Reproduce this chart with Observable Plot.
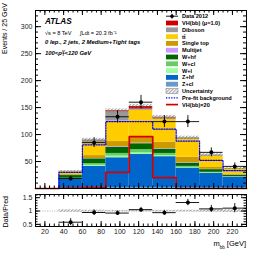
<!DOCTYPE html>
<html><head><meta charset="utf-8">
<script src="https://cdn.jsdelivr.net/npm/d3@7"></script>
<script src="https://cdn.jsdelivr.net/npm/@observablehq/plot@0.6"></script>
<style>
body{margin:0;background:#fff;}
#wrap{position:relative;width:266px;height:255px;overflow:hidden;font-family:"Liberation Sans",Arial,sans-serif;font-size:7px;}
#wrap svg{position:absolute;left:0;}
.t{position:absolute;white-space:nowrap;color:#000;line-height:1;}
.bi{font-weight:bold;font-style:italic;}
</style></head><body>
<svg width="0" height="0" style="position:absolute">
<defs><pattern id="hatch" patternUnits="userSpaceOnUse" width="2.4" height="2.4" patternTransform="rotate(45)"><line x1="0.6" y1="0" x2="0.6" y2="2.4" stroke="#6d6d6d" stroke-width="0.7"/></pattern></defs></svg>
<div id="wrap"></div>
<script>
// ---- data (bins of m_bb, 25 GeV wide) ----
const edges = [10, 35, 60, 85, 110, 135, 160, 185, 210, 235];
const binLo = [35, 60, 85, 110, 135, 160, 185, 210];
const binHi = [60, 85, 110, 135, 160, 185, 210, 235];
const binMid = [47.5, 72.5, 97.5, 122.5, 147.5, 172.5, 197.5, 222.5];
const components = ["Z+cl", "Z+hf", "W+l", "W+cl", "W+hf", "Multijet", "Single top", "ttbar", "Diboson", "VH"];
const compColors = ["#6699cc", "#0066cc", "#99ff99", "#66cc66", "#006600", "#cc99ff", "#cc9900", "#ffcc00", "#999999", "#cc0000"];
const zcl       = [1, 2, 2, 2, 2, 1.5, 1, 0.8];
const zhf       = [17, 39, 55, 61, 57, 36.5, 27, 20.2];
const wl        = [0.3, 2, 3, 3, 2, 1, 0.7, 0.4];
const wcl       = [0.7, 3, 5, 6, 4, 2, 1.3, 0.6];
const whf       = [5, 9, 11, 11, 8, 6, 5, 2.5];
const multijet  = [0.3, 0.5, 1.5, 1, 1, 1, 0.5, 0.3];
const singleTop = [1.5, 5.5, 9.5, 12, 12, 10, 3.5, 2.2];
const ttbar     = [5, 22, 38, 49, 42, 33, 21, 8.5];
const diboson   = [1, 6.9, 17.5, 2.2, 3, 3, 2, 1.5];
const vh        = [0.05, 0.1, 1.5, 4.8, 1, 0, 0, 0];
const uncert    = [1.5, 3, 3.5, 4, 3.5, 3, 2.5, 2];
const dataVals  = [18.5, 85, 133, 160, 124, 124, 67, 41];
const dataErr   = [4.3, 9.2, 11.5, 12.6, 11.1, 11.1, 8.2, 6.4];
const prefit    = [0, 30, 81, 124, 124, 110, 88, 52, 33];   // per edge bin incl. 10-35
const vhx20     = [0, 0.8, 1.5, 30, 96, 20, 0, 0, 0];
const yMajor = [0, 50, 100, 150, 200, 250, 300];
const yLabels = [50, 100, 150, 200, 250, 300];
const xMajor = [20, 40, 60, 80, 100, 120, 140, 160, 180, 200, 220];
const rMajor = [0.5, 1, 1.5];
const rLabels = ["0.5", "1", "1.5"];

const series = [zcl, zhf, wl, wcl, whf, multijet, singleTop, ttbar, diboson, vh];
const stackRows = [];
const totals = [];
for (let b = 0; b < binLo.length; b++) {
  let acc = 0;
  for (let c = 0; c < components.length; c++) {
    const v = series[c][b];
    stackRows.push({comp: components[c], lo: binLo[b], hi: binHi[b], y1: acc, y2: acc + v});
    acc += v;
  }
  totals.push(acc);
}
const bins = binLo.map((lo, i) => ({lo, hi: binHi[i], mid: binMid[i], tot: totals[i], unc: uncert[i],
  v: dataVals[i], e: dataErr[i], r: dataVals[i] / totals[i], re: dataErr[i] / totals[i]}));
const prefitPts = edges.map((x, i) => ({x, y: prefit[Math.min(i, prefit.length - 1)]}));
const sigPts = edges.map((x, i) => ({x, y: vhx20[Math.min(i, vhx20.length - 1)]}));
const xMinor = d3.range(10, 236, 5);
const yMinor = d3.range(0, 331, 10);
const rMinor = d3.range(0.5, 1.61, 0.1);

const W = 266, ML = 35, MR = 20;
const FW = W - ML - MR;
const font = {fontFamily: "Liberation Sans, Arial, sans-serif", fontSize: "7px", color: "#000", background: "transparent", overflow: "visible"};

// ---- main panel ----
const mainH = 190, mT = 10, mB = 2, FH = mainH - mT - mB;
const main = Plot.plot({
  width: W, height: mainH, marginLeft: ML, marginRight: MR, marginTop: mT, marginBottom: mB,
  style: font,
  x: {domain: [10, 235], axis: null},
  y: {domain: [0, 330], axis: null},
  color: {domain: components, range: compColors},
  marks: [
    Plot.rect(stackRows, {x1: "lo", x2: "hi", y1: "y1", y2: "y2", fill: "comp"}),
    Plot.rect(bins, {x1: "lo", x2: "hi", y1: d => d.tot - d.unc, y2: d => d.tot + d.unc, fill: "url(#hatch)"}),
    Plot.line(sigPts, {x: "x", y: "y", curve: "step-after", stroke: "#d40000", strokeWidth: 1.7}),
    Plot.line(prefitPts, {x: "x", y: "y", curve: "step-after", stroke: "#0000ff", strokeWidth: 1.2, strokeDasharray: "1.3,1.3"}),
    Plot.ruleX(bins, {x: "mid", y1: d => d.v - d.e, y2: d => d.v + d.e, stroke: "#000", strokeWidth: 0.9}),
    Plot.ruleY(bins, {y: "v", x1: "lo", x2: "hi", stroke: "#000", strokeWidth: 0.9}),
    Plot.dot(bins, {x: "mid", y: "v", r: 2, fill: "#000"}),
    Plot.tickY(yMajor, {y: d => d, insetRight: FW - 6, stroke: "#000"}),
    Plot.tickY(yMinor, {y: d => d, insetRight: FW - 3, stroke: "#000"}),
    Plot.tickY(yMajor, {y: d => d, insetLeft: FW - 6, stroke: "#000"}),
    Plot.tickY(yMinor, {y: d => d, insetLeft: FW - 3, stroke: "#000"}),
    Plot.tickX(xMajor, {x: d => d, insetTop: FH - 5, stroke: "#000"}),
    Plot.tickX(xMinor, {x: d => d, insetTop: FH - 2.5, stroke: "#000"}),
    Plot.tickX(xMajor, {x: d => d, insetBottom: FH - 5, stroke: "#000"}),
    Plot.tickX(xMinor, {x: d => d, insetBottom: FH - 2.5, stroke: "#000"}),
    Plot.axisY(yLabels, {anchor: "left", tickSize: 0, tickPadding: 3, label: null, fontSize: 7, fill: "#222"}),
    Plot.frame({stroke: "#000", strokeWidth: 1})
  ]
});
main.style.top = "0px";

// ---- ratio panel ----
const rH = 65, rT = 4, rB = 29, RFH = rH - rT - rB;
const ratio = Plot.plot({
  width: W, height: rH, marginLeft: ML, marginRight: MR, marginTop: rT, marginBottom: rB,
  style: font,
  x: {domain: [10, 235], axis: null},
  y: {domain: [0.42, 1.62], axis: null},
  marks: [
    Plot.rect(bins, {x1: "lo", x2: "hi", y1: d => 1 - d.unc / d.tot, y2: d => 1 + d.unc / d.tot, fill: "url(#hatch)"}),
    Plot.ruleY([1], {stroke: "#aaa", strokeWidth: 0.8, strokeDasharray: "1.2,1.2"}),
    Plot.ruleX(bins, {x: "mid", y1: d => d.r - d.re, y2: d => d.r + d.re, stroke: "#000", strokeWidth: 0.9}),
    Plot.ruleY(bins, {y: "r", x1: "lo", x2: "hi", stroke: "#000", strokeWidth: 0.9}),
    Plot.dot(bins, {x: "mid", y: "r", r: 2, fill: "#000"}),
    Plot.tickY(rMajor, {y: d => d, insetRight: FW - 5, stroke: "#000"}),
    Plot.tickY(rMinor, {y: d => d, insetRight: FW - 2.5, stroke: "#000"}),
    Plot.tickY(rMajor, {y: d => d, insetLeft: FW - 5, stroke: "#000"}),
    Plot.tickY(rMinor, {y: d => d, insetLeft: FW - 2.5, stroke: "#000"}),
    Plot.tickX(xMajor, {x: d => d, insetTop: RFH - 5, stroke: "#000"}),
    Plot.tickX(xMinor, {x: d => d, insetTop: RFH - 2.5, stroke: "#000"}),
    Plot.tickX(xMajor, {x: d => d, insetBottom: RFH - 5, stroke: "#000"}),
    Plot.tickX(xMinor, {x: d => d, insetBottom: RFH - 2.5, stroke: "#000"}),
    Plot.axisY(rMajor, {anchor: "left", tickSize: 0, tickPadding: 3, label: null, fontSize: 7, fill: "#222", tickFormat: (d, i) => rLabels[i]}),
    Plot.axisX(xMajor, {anchor: "bottom", tickSize: 0, tickPadding: 3, label: null, fontSize: 7, fill: "#222"}),
    Plot.frame({stroke: "#000", strokeWidth: 1})
  ]
});
ratio.style.top = mainH + "px";

const wrap = document.getElementById("wrap");
wrap.appendChild(main);
wrap.appendChild(ratio);

// ---- texts ----
function addText(html, css) {
  const d = document.createElement("div");
  d.className = "t";
  d.innerHTML = html;
  Object.assign(d.style, css);
  wrap.appendChild(d);
  return d;
}
addText('ATLAS', {left: "45px", top: "18px", fontSize: "8.2px", fontWeight: "bold", fontStyle: "italic"});
addText('\u221As = 8 TeV', {left: "45px", top: "30.5px", fontSize: "5.6px"});
addText('\u222BLdt = 20.3 fb\u207B\u00B9', {left: "80px", top: "30.5px", fontSize: "5.6px"});
addText('0 lep., 2 jets, 2 Medium+Tight tags', {left: "45px", top: "40px", fontSize: "5.9px", fontWeight: "bold", fontStyle: "italic"});
addText('100&lt;p<span style="display:inline-block;vertical-align:-1.5px;line-height:0.9;font-size:4px;text-align:left"><span style="display:block">V</span><span style="display:block">T</span></span>&lt;120 GeV', {left: "45px", top: "49.5px", fontSize: "5.9px", fontWeight: "bold", fontStyle: "italic"});

// axis titles
addText('Events / 25 GeV', {left: "1px", top: "3px", fontSize: "7px", transformOrigin: "0 0", transform: "rotate(-90deg) translate(-100%,0)"});
addText('Data/Pred', {left: "2px", top: "196px", fontSize: "7px", transformOrigin: "0 0", transform: "rotate(-90deg) translate(-100%,0)"});
addText('m<sub style="font-size:4.5px">bb</sub> [GeV]', {right: "20px", top: "240px", fontSize: "7.5px"});

// ---- legend ----
const legItems = [
  {label: "Data 2012", kind: "data"},
  {label: "VH(bb) (μ=1.0)", kind: "fill", color: compColors[9]},
  {label: "Diboson", kind: "fill", color: compColors[8]},
  {label: "tt\u0304", kind: "fill", color: compColors[7]},
  {label: "Single top", kind: "fill", color: compColors[6]},
  {label: "Multijet", kind: "fill", color: compColors[5]},
  {label: "W+hf", kind: "fill", color: compColors[4]},
  {label: "W+cl", kind: "fill", color: compColors[3]},
  {label: "W+l", kind: "fill", color: compColors[2]},
  {label: "Z+hf", kind: "fill", color: compColors[1]},
  {label: "Z+cl", kind: "fill", color: compColors[0]},
  {label: "Uncertainty", kind: "hatch"},
  {label: "Pre-fit background", kind: "dash"},
  {label: "VH(bb)×20", kind: "line"}
];
const leg = d3.create("svg").attr("width", W).attr("height", 120).style("top", "0px");
const y0 = 16.2, dy = 6.8, sx = 166, sw = 12, tx = 182;
legItems.forEach((it, i) => {
  const yc = y0 + i * dy;
  const g = leg.append("g");
  if (it.kind === "data") {
    g.append("line").attr("x1", sx).attr("x2", sx + sw).attr("y1", yc).attr("y2", yc).attr("stroke", "#000").attr("stroke-width", 0.9);
    g.append("line").attr("x1", sx + sw / 2).attr("x2", sx + sw / 2).attr("y1", yc - 2.5).attr("y2", yc + 2.5).attr("stroke", "#000").attr("stroke-width", 0.9);
    g.append("circle").attr("cx", sx + sw / 2).attr("cy", yc).attr("r", 1.8).attr("fill", "#000");
  } else if (it.kind === "fill") {
    g.append("rect").attr("x", sx).attr("y", yc - 2.4).attr("width", sw).attr("height", 4.8).attr("fill", it.color);
  } else if (it.kind === "hatch") {
    g.append("rect").attr("x", sx).attr("y", yc - 2.4).attr("width", sw).attr("height", 4.8).attr("fill", "url(#hatch)").attr("stroke", "#777").attr("stroke-width", 0.5);
  } else if (it.kind === "dash") {
    g.append("line").attr("x1", sx).attr("x2", sx + sw).attr("y1", yc).attr("y2", yc).attr("stroke", "#0000ff").attr("stroke-width", 1.2).attr("stroke-dasharray", "1.3,1.3");
  } else {
    g.append("line").attr("x1", sx).attr("x2", sx + sw).attr("y1", yc).attr("y2", yc).attr("stroke", "#d40000").attr("stroke-width", 1.7);
  }
  g.append("text").attr("x", tx).attr("y", yc).attr("dy", "0.36em")
    .attr("font-family", "Liberation Sans, Arial, sans-serif").attr("font-size", 5.6).attr("font-weight", "bold").attr("fill", "#000")
    .text(it.label);
});
wrap.appendChild(leg.node());
</script>
</body></html>
